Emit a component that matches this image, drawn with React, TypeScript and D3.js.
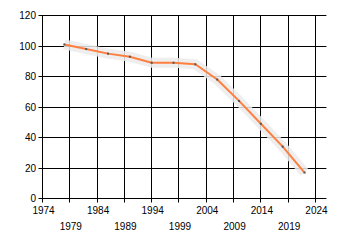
import React from "react";
import * as d3 from "d3";

const years = [1978, 1982, 1986, 1990, 1994, 1998, 2002, 2006, 2010, 2014, 2018, 2022];
const values = [101, 98, 95, 93, 89, 89, 88, 78, 64, 49, 34, 17];
const xTicks = [1974, 1979, 1984, 1989, 1994, 1999, 2004, 2009, 2014, 2019, 2024];
const yTicks = [0, 20, 40, 60, 80, 100, 120];

const W = 340;
const H = 245;

export default function App() {
  const x = d3.scaleLinear().domain([1974, 2026]).range([42.5, 326.4]);
  const y = d3.scaleLinear().domain([0, 120]).range([198.5, 15.5]);
  const pts: [number, number][] = years.map((yr, i) => [x(yr), y(values[i])]);
  const line = d3.line<[number, number]>().x((d) => d[0]).y((d) => d[1]);
  const path = line(pts) || "";
  const font = "'Liberation Sans', Arial, sans-serif";
  const xEnd = x(2026);
  const snap = (v: number) => Math.floor(v) + 0.5;

  return (
    <svg
      width={W}
      height={H}
      style={{ position: "absolute", left: 0, top: 0, display: "block", background: "#fff" }}
    >
      {/* horizontal grid */}
      {yTicks.map((t) => (
        <line key={"h" + t} x1={snap(x(1974)) - 4} x2={xEnd} y1={snap(y(t))} y2={snap(y(t))} stroke="#000" strokeWidth={1} />
      ))}
      {/* vertical grid */}
      {xTicks.map((t) => (
        <line key={"v" + t} x1={snap(x(t))} x2={snap(x(t))} y1={snap(y(120))} y2={snap(y(0)) + 4} stroke="#000" strokeWidth={1} />
      ))}
      {/* band */}
      <path d={path} fill="none" stroke="#ebebeb" strokeOpacity={0.85} strokeWidth={10} strokeLinejoin="round" />
      {/* line */}
      <path d={path} fill="none" stroke="#ff7f3f" strokeWidth={2} strokeLinejoin="round" />
      {pts.map((p, i) => (
        <rect key={"m" + i} x={p[0] - 1} y={p[1] - 1} width={2} height={2} fill="#555" />
      ))}
      {/* y labels */}
      {yTicks.map((t) => (
        <text key={"yl" + t} x={36} y={y(t) + 3.5} textAnchor="end" fontFamily={font} fontSize={10} fill="#000">
          {t}
        </text>
      ))}
      {/* x labels */}
      {xTicks.map((t, i) => (
        <text
          key={"xl" + t}
          x={x(t) + 1}
          y={i % 2 === 0 ? 213.5 : 230}
          textAnchor="middle"
          fontFamily={font}
          fontSize={10}
          fill="#000"
        >
          {t}
        </text>
      ))}
    </svg>
  );
}
